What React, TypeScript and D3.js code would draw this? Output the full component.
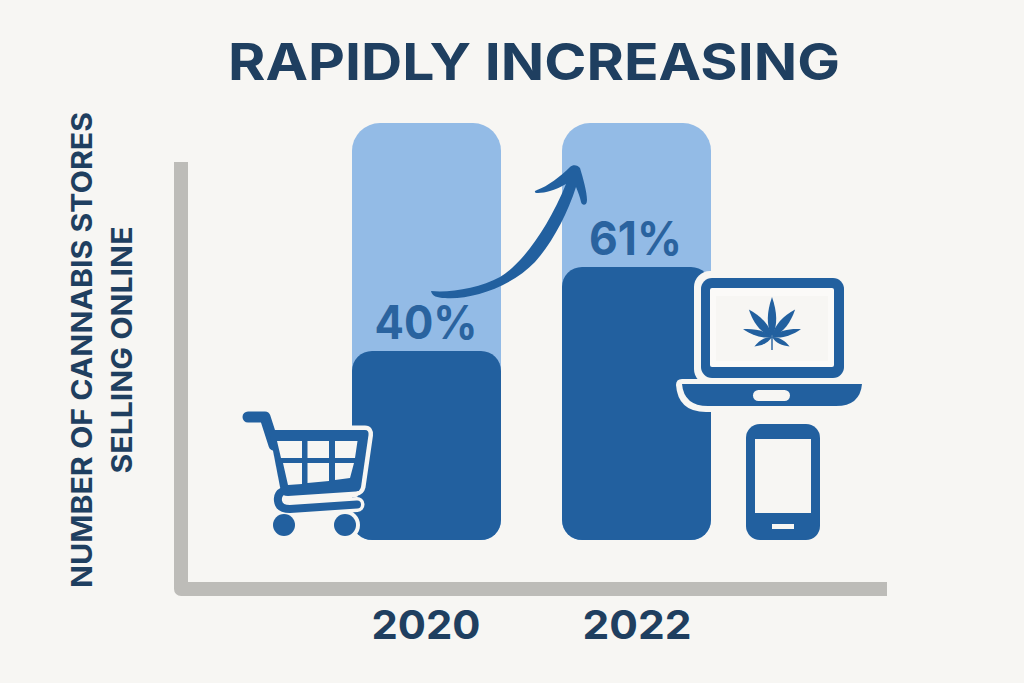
import React from "react";
import * as d3 from "d3";

const years = ["2020", "2022"];
const shares = [40, 61];
const shareLabels = ["40%", "61%"];
const titleText = "RAPIDLY INCREASING";
const axisTitleLines = ["NUMBER OF CANNABIS STORES", "SELLING ONLINE"];

const BG = "#f7f6f3";
const LIGHT = "#93bbe6";
const DARK = "#22609f";
const NAVY = "#1f3f60";
const AXIS = "#bdbcb8";
const FONT = "Inter, 'Noto Sans', sans-serif";

const x = d3.scaleBand<string>().domain(years).range([352, 711]).paddingInner(61 / 210);
// The picture's bars are not drawn to a single proportional scale, so the scale is piecewise.
const y = d3.scaleLinear().domain([0, 40, 61, 100]).range([540, 351, 267, 123]);

const labelBaselines = [339, 255];
const labelCenters = [426, 635.5];
const labelWidths = [103, 93];
const yearCenters = [426, 637];

const roundedTop = (l: number, t: number, w: number, b: number, r: number, rb: number) =>
  `M${l + r},${t}H${l + w - r}A${r},${r} 0 0 1 ${l + w},${t + r}V${b - rb}A${rb},${rb} 0 0 1 ${l + w - rb},${b}H${l + rb}A${rb},${rb} 0 0 1 ${l},${b - rb}V${t + r}A${r},${r} 0 0 1 ${l + r},${t}Z`;

const leaf = (len: number, wid: number, ang: number) => {
  const pts = [
    `M0,0`,
    `C${-wid * 0.9},${-len * 0.3} ${-wid * 0.7},${-len * 0.65} 0,${-len}`,
    `C${wid * 0.7},${-len * 0.65} ${wid * 0.9},${-len * 0.3} 0,0Z`,
  ].join("");
  return <path d={pts} transform={`rotate(${ang})`} fill={DARK} />;
};

function Cart() {
  const basket = "M269,430H365Q369,430 368.5,435L361,487Q360,491 356,491.5L288,496Q282,496 281,492Z";
  const loop = "M357,504.5L290,509Q279,509 278,501Q277,494 283,491";
  return (
    <g strokeLinejoin="round" strokeLinecap="round">
      <path d={basket} fill={BG} stroke={BG} strokeWidth={9} />
      <path d={loop} fill="none" stroke={BG} strokeWidth={15} />
      <circle cx={345} cy={525} r={15} fill={BG} />
      <path d="M248,417H265L274,445" fill="none" stroke={DARK} strokeWidth={11} />
      <path d={basket} fill={DARK} />
      <path d="M277,441H302V458H281Z M307.5,441H329V458H307.5Z M335,441H357.5L355,458H335Z M283,463H302V484L288,485Z M307.5,463H329V481L307.5,483Z M335,463H354L350,478L335,480Z" fill={BG} />
      <path d={loop} fill="none" stroke={DARK} strokeWidth={8} />
      <path d="M287,499L356,495" stroke={BG} strokeWidth={4} />
      <circle cx={284} cy={525} r={11} fill={DARK} />
      <circle cx={345} cy={525} r={11} fill={DARK} />
    </g>
  );
}

function Laptop() {
  return (
    <g>
      <rect x={694} y={271} width={157} height={114} rx={16} fill={BG} />
      <path d="M682,379H862Q868,379 868,385Q866,412 838,412H706Q678,412 676,385Q676,379 682,379Z" fill={BG} />
      <rect x={701} y={278} width={143} height={100} rx={11} fill={DARK} />
      <rect x={710} y={288} width={124} height={79} rx={2} fill="#fbfaf8" />
      <rect x={716} y={296} width={112} height={65} fill={BG} />
      <path d="M682,384H862Q860,406 836,406H708Q684,406 682,384Z" fill={DARK} />
      <rect x={753} y={390} width={37} height={11} rx={5.5} fill={BG} />
      <g transform="translate(772,337)">
        {leaf(40, 7, 0)}
        {leaf(36, 7, -40)}
        {leaf(36, 7, 40)}
        {leaf(30, 5, -75)}
        {leaf(30, 5, 75)}
        {leaf(20, 4, -118)}
        {leaf(20, 4, 118)}
        <rect x={-0.7} y={0} width={1.4} height={13} fill={DARK} />
      </g>
    </g>
  );
}

function Phone() {
  return (
    <g>
      <rect x={746} y={424} width={74} height={116} rx={14} fill={DARK} />
      <rect x={755} y={439} width={56} height={74} fill={BG} />
      <rect x={772} y={524} width={22} height={5} fill={BG} />
    </g>
  );
}

function Arrow() {
  return (
    <path
      fill={DARK}
      d="M431,291C450,293 480,288 500,277C522,264 548,228 566,184C556,190 545,193 538,193C534,193 534,191 537,190C548,186 560,177 570,167C573,164 578,165 580,168C583,178 587,192 587,200C587,206 582,206 581,202C580,197 578,192 576,187C567,215 552,243 535,262C510,288 470,300 445,298C437,298 432,296 431,291Z"
    />
  );
}

export default function App() {
  return (
    <svg
      width={1024}
      height={683}
      viewBox="0 0 1024 683"
      style={{ position: "fixed", left: 0, top: 0, display: "block", background: BG }}
      fontFamily={FONT}
    >
      <rect width={1024} height={683} fill={BG} />
      <text x={534} y={80} textAnchor="middle" fontSize={51} fontWeight={700} fill={NAVY} textLength={612} lengthAdjust="spacingAndGlyphs">{titleText}</text>

      <path d="M181,162V589H887" fill="none" stroke={AXIS} strokeWidth={14} strokeLinejoin="round" />

      <g transform="translate(92,350) rotate(-90)">
        <text textAnchor="middle" fontSize={28} fontWeight={700} fill={NAVY} textLength={476} lengthAdjust="spacingAndGlyphs">{axisTitleLines[0]}</text>
        <text y={40} textAnchor="middle" fontSize={28} fontWeight={700} fill={NAVY} textLength={247} lengthAdjust="spacingAndGlyphs">{axisTitleLines[1]}</text>
      </g>

      {years.map((yr, i) => {
        const l = x(yr)!;
        const w = x.bandwidth();
        return (
          <g key={yr}>
            <path d={roundedTop(l, y(100), w, y(0), 28, 20)} fill={LIGHT} />
            <path d={roundedTop(l, y(shares[i]), w, y(0), 20, 20)} fill={DARK} />
            <text x={labelCenters[i]} y={labelBaselines[i]} textAnchor="middle" fontSize={46} fontWeight={700} fill="#2a639f" textLength={labelWidths[i]} lengthAdjust="spacingAndGlyphs">{shareLabels[i]}</text>
            <text x={yearCenters[i]} y={639} textAnchor="middle" fontSize={40} fontWeight={700} fill={NAVY} textLength={109} lengthAdjust="spacingAndGlyphs">{yr}</text>
          </g>
        );
      })}

      <Arrow />
      <Cart />
      <Laptop />
      <Phone />
    </svg>
  );
}
